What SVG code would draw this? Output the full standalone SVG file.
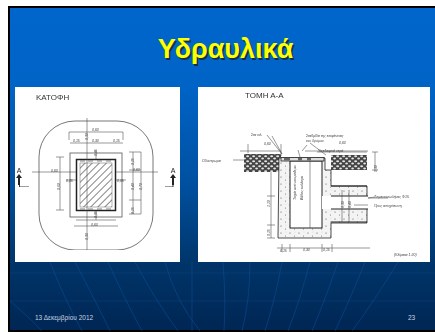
<svg xmlns="http://www.w3.org/2000/svg" width="435" height="332" viewBox="0 0 435 332">
<style>
.d{fill:none;stroke:#444;stroke-width:.55}
.k{fill:none;stroke:#222;stroke-width:1}
.t{font-family:"Liberation Sans",sans-serif;fill:#444;font-size:3.5px;font-style:italic}
.h{font-family:"Liberation Sans",sans-serif;fill:#333;font-size:8px}
.g{fill:none;stroke:#0f5aa8;stroke-width:.7;opacity:.6}
.f{fill:none;stroke:#0c4c8e;stroke-width:.6;opacity:.6}
</style>
<defs>
<filter id="soft" x="0" y="0" width="1" height="1"><feGaussianBlur stdDeviation=".4"/></filter>
<linearGradient id="bg" x1="0" y1="0" x2="0" y2="1">
<stop offset="0" stop-color="#0066cc"/><stop offset=".25" stop-color="#0063c6"/><stop offset=".55" stop-color="#00509f"/><stop offset=".8" stop-color="#003468"/><stop offset="1" stop-color="#002654"/>
</linearGradient>
<pattern id="hatch" width="5" height="5" patternUnits="userSpaceOnUse" patternTransform="rotate(45)">
<rect width="5" height="5" fill="#fff"/><rect width=".9" height="5" fill="#777"/>
</pattern>
<pattern id="gravel" width="6" height="5" patternUnits="userSpaceOnUse">
<rect width="6" height="5" fill="#444"/><ellipse cx="1.6" cy="1.3" rx="1.5" ry="1" fill="#e4e4e4"/><ellipse cx="4.6" cy="3.6" rx="1.4" ry="1" fill="#e4e4e4"/>
</pattern>
<pattern id="conc" width="9" height="7" patternUnits="userSpaceOnUse">
<rect width="9" height="7" fill="#f4f4f4"/><circle cx="2" cy="2" r=".6" fill="#555"/><circle cx="6.5" cy="5" r=".5" fill="#666"/><circle cx="7" cy="1" r=".3" fill="#888"/>
</pattern>
</defs>
<rect width="435" height="332" fill="#fff"/>
<rect x="9" y="7" width="427" height="324" fill="url(#bg)" stroke="#000" stroke-width="2"/>
<g id="background-lines">
<path class="f" d="M10 273H435M10 301H435"/>
<path class="g" d="M50 262Q65 300 82 331M75 262Q95 300 110 331M108 262Q125 300 142 331M135 262Q155 300 178 331M165 262Q175 300 200 331M192 262V331M223 262Q226 300 224 331M250 262Q250 300 242 331M282 262Q275 300 265 331M310 262Q300 300 288 331M338 262Q325 300 312 331M365 262Q350 300 335 331M398 262Q375 300 352 331"/>
<path class="g" d="M10 301Q30 318 42 331"/>
</g>
<g id="title">
<text x="225.500" y="58" text-anchor="middle" font-family="Liberation Sans,sans-serif" font-size="27" font-weight="bold" fill="#1c1c1c" opacity=".75" transform="translate(1.5 1.5)">Υδραυλικά</text>
<text x="225.500" y="58" text-anchor="middle" font-family="Liberation Sans,sans-serif" font-size="27" font-weight="bold" fill="#ffff00">Υδραυλικά</text>
</g>
<rect x="15" y="87" width="165" height="175" fill="#fff"/>
<rect x="198" y="87" width="232" height="175" fill="#fff"/>
<g id="plan" filter="url(#soft)">
<text class="h" x="36" y="100">ΚΑΤΟΦΗ</text>
<rect x="39" y="121" width="114" height="129" rx="36" ry="36" fill="none" stroke="#555" stroke-width=".8"/>
<rect x="70" y="153" width="52" height="64" fill="none" stroke="#555" stroke-width=".8"/>
<rect x="76.500" y="159.500" width="39" height="51" fill="#fff" stroke="#222" stroke-width="1.500"/>
<rect x="80" y="163" width="32" height="44" fill="url(#hatch)" stroke="#666" stroke-width=".5"/>
<path d="M80 161h5M88 161h5M97 161h5M106 161h5M80 209h5M88 209h5M97 209h5M106 209h5" fill="none" stroke="#666" stroke-width=".8"/>
<path class="d" d="M87 118V250M32 172H76M116 172H158M69 132H123M69 132V140M123 132V140M70 143H123M76 220H116M74 226H118M96 150V159M96 211V220"/>
<path class="d" d="M60 157V210M56 157H64M56 210H64M133 152V214M129 152H141M129 170H141M129 200H141M129 214H141M141 152V214M66 180H76M116 180H126"/>
<text class="t" x="92" y="131">0,60</text><text class="t" x="73" y="142">0,15</text><text class="t" x="92" y="142">0,30</text><text class="t" x="113" y="142">0,15</text>
<text class="t" x="91" y="226">0,60</text><text class="t" x="51" y="172">0,60</text><text class="t" x="133" y="171">0,60</text>
<text class="t" x="66" y="182">0,05</text><text class="t" x="117" y="182">0,05</text>
<text class="t" transform="rotate(-90 60 190)" x="60" y="190">0,60</text>
<text class="t" transform="rotate(-90 88 140)" x="88" y="140">0,30</text>
<text class="t" transform="rotate(-90 88 240)" x="88" y="240">0,30</text>
<text class="t" transform="rotate(-90 134 165)" x="134" y="165">0,15</text>
<text class="t" transform="rotate(-90 134 190)" x="134" y="190">0,40</text>
<text class="t" transform="rotate(-90 134 214)" x="134" y="214">0,15</text>
<text class="t" transform="rotate(-90 142 190)" x="142" y="190">0,70</text>
<text class="t" transform="rotate(-90 97 156)" x="97" y="156">0,05</text>
<text class="t" transform="rotate(-90 97 218)" x="97" y="218">0,05</text>
</g>
<g id="marker-left" fill="#222" filter="url(#soft)">
<text x="19" y="173" font-family="Liberation Sans,sans-serif" font-size="7" text-anchor="middle">Α</text>
<path d="M19 174l-3 4h2v7h2v-7h2z"/><path d="M19.500 185V187H29" fill="none" stroke="#222" stroke-width=".9"/>
</g>
<g id="marker-right" fill="#222" filter="url(#soft)">
<text x="173" y="173" font-family="Liberation Sans,sans-serif" font-size="7" text-anchor="middle">Α</text>
<path d="M173 174l-3 4h2v7h2v-7h2z"/><path d="M173 185V187H165" fill="none" stroke="#222" stroke-width=".9"/>
</g>
<g id="section" filter="url(#soft)">
<text class="h" x="245" y="98">ΤΟΜΗ Α-Α</text>
<rect x="244" y="154" width="37" height="18" fill="url(#gravel)"/>
<rect x="331" y="155" width="36" height="15" fill="url(#gravel)"/>
<path d="M279 158H325V170H331V186H367V223H331V238H278Z" fill="url(#conc)" stroke="#222" stroke-width=".8"/>
<rect x="290" y="161" width="32" height="67" fill="#fff" stroke="#222" stroke-width="1"/>
<rect x="322" y="196" width="46" height="13" fill="#fff"/>
<path class="k" d="M331 186H367M331 196H368M331 209H368M331 222H367"/>
<rect x="281" y="157.500" width="43" height="3.500" fill="#ddd" stroke="#222" stroke-width=".8"/>
<path d="M284 158h6v2.500h-6zM298 158h4v2.500h-4zM307 158h4v2.500h-4z" fill="#666"/>
<path class="d" d="M240 151H281M248 144V153M281 144V156M282 154L267 135M282 154L272 136M310 143L326 155M298 150L300 157M233 160H244M317 152L367 152M310 161V228M368 198H388M354 205H368M368 198L375 197"/>
<path class="d" d="M271 172V225M267 196H275M267 225H275M267 238H275M271 225V238M277 248H370M282 244V252M290 244V252M322 244V252M332 244V252M375 152V170M372 152H378M372 170H378M342 190V222M349 190V222"/>
<path class="d" d="M305 151H368M307 145L302 151"/>
<text class="t" x="251" y="136" font-size="4">Στα κιλ.</text>
<text class="t" x="264" y="145">0,60</text>
<text class="t" x="202" y="162">Οδόστρωμα</text>
<text class="t" x="306" y="137">Σταθμίδα της επιφάνειας</text>
<text class="t" x="306" y="142">του δρόμου</text>
<text class="t" x="339" y="144">0,60</text>
<text class="t" x="318" y="152">Υπεδαφικά νερά</text>
<text class="t" x="374" y="198">Τσιμεντοσωλήνας Φ15</text>
<text class="t" x="374" y="207">Προς αποχέτευση</text>
<text class="t" x="394" y="256">(Κλίμακα 1:20)</text>
<text class="t" x="280" y="252">0,15</text><text class="t" x="303" y="251">0,30</text><text class="t" x="323" y="251">0,15</text>
<text class="t" transform="rotate(-90 270 207)" x="270" y="207">1,10</text>
<text class="t" transform="rotate(-90 270 236)" x="270" y="236">0,15</text>
<text class="t" transform="rotate(-90 377 172)" x="377" y="172">0,30</text>
<text class="t" transform="rotate(-90 296 200)" x="296" y="200">Τοιχίο από σκυρόδεμα</text>
<text class="t" transform="rotate(-90 303 200)" x="303" y="200">Βάθος ανάλογα</text>
<text class="t" transform="rotate(-90 344 208)" x="344" y="208">0,30</text>
<text class="t" transform="rotate(-90 351 208)" x="351" y="208">0,40</text>
</g>
<g id="footer" font-family="Liberation Sans,sans-serif" font-size="6.500" fill="#c8d4e0">
<text x="35" y="320">13 Δεκεμβρίου 2012</text>
<text x="408" y="320">23</text>
</g>
</svg>
